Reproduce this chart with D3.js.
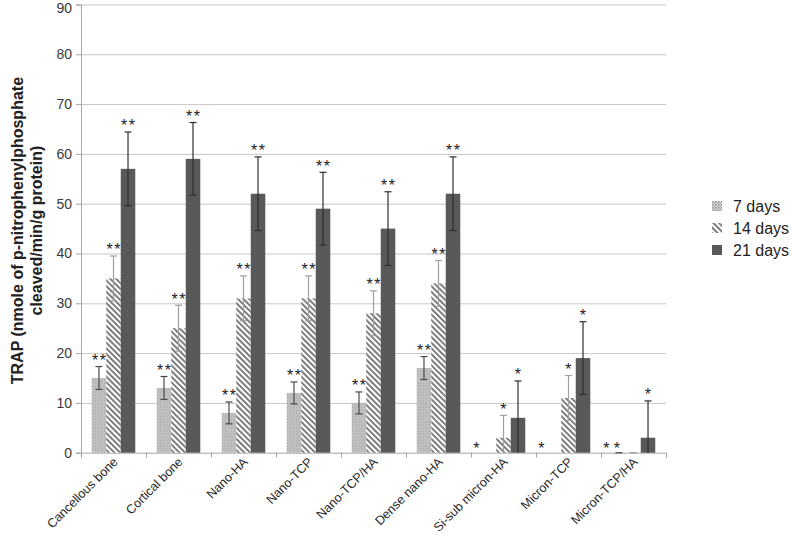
<!DOCTYPE html>
<html>
<head>
<meta charset="utf-8">
<script src="https://cdn.jsdelivr.net/npm/d3@7"></script>
<style>
  body { margin: 0; background: #fff; }
  svg { font-family: "Liberation Sans", Arial, sans-serif; }
</style>
</head>
<body>
<div id="chart"></div>
<script>
const categories = ["Cancellous bone", "Cortical bone", "Nano-HA", "Nano-TCP", "Nano-TCP/HA",
  "Dense nano-HA", "Si-sub micron-HA", "Micron-TCP", "Micron-TCP/HA"];
const seriesNames = ["7 days", "14 days", "21 days"];

const days7 = [15, 13, 8, 12, 10, 17, 0, 0, 0];
const days14 = [35, 25, 31, 31, 28, 34, 3, 11, 0];
const days21 = [57, 59, 52, 49, 45, 52, 7, 19, 3];

const err7 = [2.3, 2.3, 2.2, 2.2, 2.2, 2.3, null, null, 0];
const err14 = [4.5, 4.6, 4.5, 4.5, 4.5, 4.6, 4.5, 4.5, 0];
const err21 = [7.4, 7.3, 7.4, 7.3, 7.4, 7.4, 7.4, 7.3, 7.4];

const stars7 = ["**", "**", "**", "**", "**", "**", "*", "*", "*"];
const stars14 = ["**", "**", "**", "**", "**", "**", "*", "*", "*"];
const stars21 = ["**", "**", "**", "**", "**", "**", "*", "*", "*"];

const yTicks = [0, 10, 20, 30, 40, 50, 60, 70, 80, 90];

const width = 792, height = 536;
const margin = { left: 81, right: 126, top: 4.5, bottom: 83.3 };

const svg = d3.select("#chart").append("svg")
  .attr("width", width)
  .attr("height", height);

// patterns
const defs = svg.append("defs");
const p7 = defs.append("pattern")
  .attr("id", "pat7")
  .attr("patternUnits", "userSpaceOnUse")
  .attr("width", 3).attr("height", 3);
p7.append("rect").attr("width", 3).attr("height", 3).attr("fill", "#dadada");
p7.append("rect").attr("width", 1.5).attr("height", 1.5).attr("fill", "#939393");
p7.append("rect").attr("x", 1.5).attr("y", 1.5).attr("width", 1.5).attr("height", 1.5).attr("fill", "#ababab");

const p14 = defs.append("pattern")
  .attr("id", "pat14")
  .attr("patternUnits", "userSpaceOnUse")
  .attr("width", 4).attr("height", 4)
  .attr("patternTransform", "rotate(-45)");
p14.append("rect").attr("width", 4).attr("height", 4).attr("fill", "#fff");
p14.append("rect").attr("width", 1.8).attr("height", 4).attr("fill", "#707070");

const fills = ["url(#pat7)", "url(#pat14)", "#595959"];
const errColors = ["#4a4a4a", "#a0a0a0", "#2e2e2e"];

const innerW = width - margin.left - margin.right;
const innerH = height - margin.top - margin.bottom;

const chart = svg.append("g")
  .attr("transform", "translate(" + margin.left + "," + margin.top + ")");

const x0 = d3.scaleBand().domain(categories).range([0, innerW]).paddingInner(0.33).paddingOuter(0.165);
const x1 = d3.scaleBand().domain(seriesNames).range([0, x0.bandwidth()]);
const y = d3.scaleLinear().domain([0, 90]).range([innerH, 0]);

// gridlines
chart.append("g")
  .attr("class", "grid")
  .call(d3.axisLeft(y).tickValues(yTicks.slice(1)).tickSize(-innerW).tickFormat(""))
  .call(g => g.select(".domain").remove())
  .call(g => g.selectAll("line").attr("stroke", "#c6c6c6"));

// y axis
chart.append("g")
  .call(d3.axisLeft(y).tickValues(yTicks).tickSize(5).tickPadding(4))
  .call(g => g.select(".domain").attr("stroke", "#a6a6a6"))
  .call(g => g.selectAll("line").attr("stroke", "#a6a6a6"))
  .call(g => g.selectAll("text").attr("font-size", 14).attr("fill", "#3a3a3a")
    .attr("font-family", "Liberation Sans, Arial, sans-serif")
    .attr("dy", d => d === 90 ? "0.55em" : "0.32em"));

// x axis with ticks at band boundaries
const boundaries = d3.range(categories.length + 1).map(i => i * innerW / categories.length);
const xb = d3.scaleLinear().domain([0, innerW]).range([0, innerW]);
chart.append("g")
  .attr("transform", "translate(0," + innerH + ")")
  .call(d3.axisBottom(xb).tickValues(boundaries).tickSize(5).tickFormat(""))
  .call(g => g.select(".domain").attr("stroke", "#a6a6a6"))
  .call(g => g.selectAll("line").attr("stroke", "#a6a6a6"));

// category labels
chart.append("g").selectAll("text")
  .data(categories)
  .join("text")
  .attr("text-anchor", "end")
  .attr("font-size", 12.6)
  .attr("fill", "#2a2a2a")
  .attr("transform", d => "translate(" + (x0(d) + x0.bandwidth() / 2 + 5) + "," + (innerH + 10) + ") rotate(-45)")
  .text(d => d);

const series = [days7, days14, days21];
const errs = [err7, err14, err21];
const stars = [stars7, stars14, stars21];

const rows = [];
categories.forEach((c, i) => {
  seriesNames.forEach((s, j) => {
    rows.push({ cat: c, s: s, j: j, v: series[j][i], e: errs[j][i], star: stars[j][i] });
  });
});

const groups = chart.append("g").selectAll("g")
  .data(rows)
  .join("g")
  .attr("transform", d => "translate(" + (x0(d.cat) + x1(d.s)) + ",0)");

groups.filter(d => d.v > 0).append("rect")
  .attr("y", d => y(d.v))
  .attr("width", x1.bandwidth())
  .attr("height", d => innerH - y(d.v))
  .attr("fill", d => fills[d.j]);

const bw = x1.bandwidth();
const withErr = groups.filter(d => d.e !== null);
withErr.append("line")
  .attr("x1", bw / 2).attr("x2", bw / 2)
  .attr("y1", d => y(d.v + d.e))
  .attr("y2", d => y(Math.max(0, d.v - d.e)))
  .attr("stroke", d => errColors[d.j]).attr("stroke-width", 1.2);
withErr.append("line")
  .attr("x1", bw / 2 - 3.5).attr("x2", bw / 2 + 3.5)
  .attr("y1", d => y(d.v + d.e)).attr("y2", d => y(d.v + d.e))
  .attr("stroke", d => errColors[d.j]).attr("stroke-width", 1.2);
withErr.filter(d => d.v - d.e > 0).append("line")
  .attr("x1", bw / 2 - 3.5).attr("x2", bw / 2 + 3.5)
  .attr("y1", d => y(d.v - d.e)).attr("y2", d => y(d.v - d.e))
  .attr("stroke", d => errColors[d.j]).attr("stroke-width", 1.2);

// significance stars
groups.append("text")
  .attr("text-anchor", "middle")
  .attr("font-size", 16)
  .attr("fill", "#222")
  .attr("letter-spacing", 1.5)
  .attr("x", d => d.v > 0 ? bw / 2 + 0.7 : bw / 2 - 12 - d.j * 4)
  .attr("y", d => d.v > 0 ? y(d.v + (d.e || 0)) - 0.5 : innerH + 1.5)
  .text(d => d.star);

// y axis title
svg.append("text")
  .attr("transform", "translate(23," + (margin.top + innerH / 2 + 2) + ") rotate(-90)")
  .attr("text-anchor", "middle")
  .attr("font-size", 16)
  .attr("font-weight", "bold")
  .attr("fill", "#222")
  .selectAll("tspan")
  .data(["TRAP (nmole of p-nitrophenylphosphate", "cleaved/min/g protein)"])
  .join("tspan")
  .attr("x", 0)
  .attr("dy", (d, i) => i === 0 ? 0 : 19)
  .text(d => d);

// legend
const legend = svg.append("g").attr("transform", "translate(712,201)");
const li = legend.selectAll("g")
  .data(seriesNames)
  .join("g")
  .attr("transform", (d, i) => "translate(0," + (i * 22) + ")");
li.append("rect")
  .attr("width", 10).attr("height", 10)
  .attr("fill", (d, i) => fills[i]);
li.append("text")
  .attr("x", 21).attr("y", 11)
  .attr("font-size", 16)
  .attr("fill", "#222")
  .text(d => d);
</script>
</body>
</html>
